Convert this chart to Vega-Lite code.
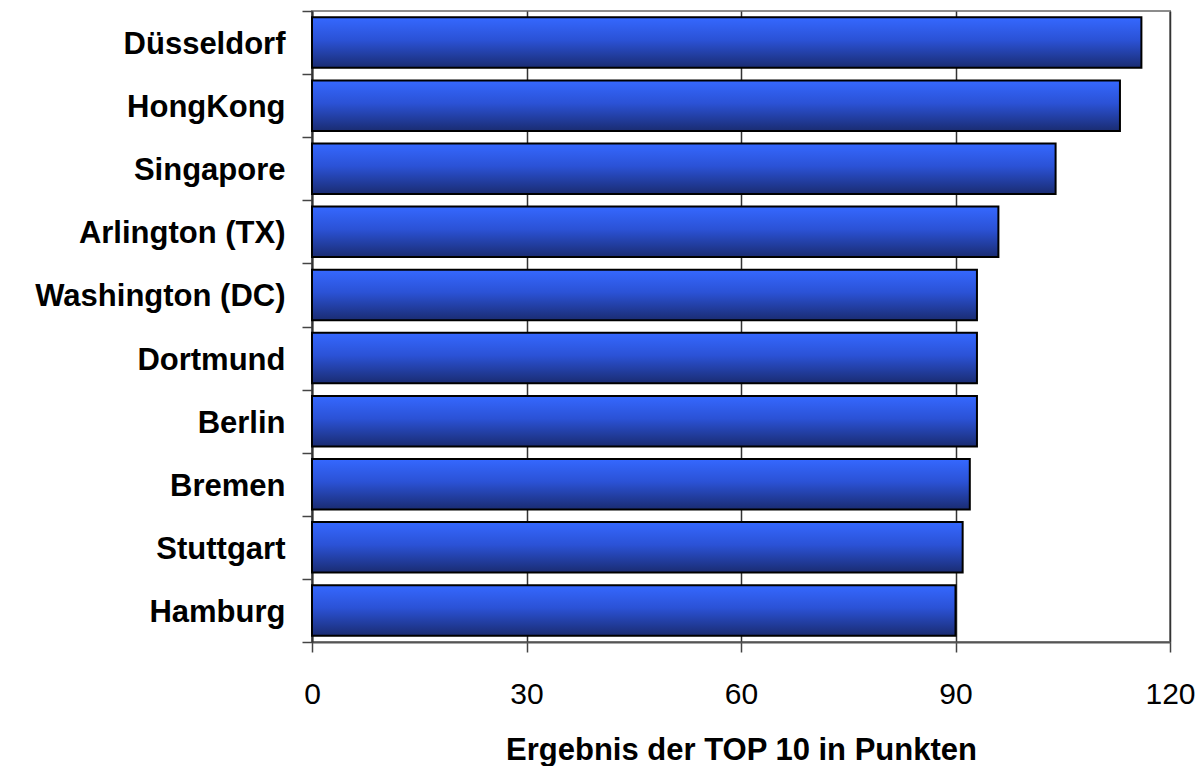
{
  "$schema": "https://vega.github.io/schema/vega-lite/v6.json",
  "width": 858,
  "height": 631,
  "autosize": "none",
  "padding": {"left": 312, "top": 11, "right": 32, "bottom": 124},
  "background": "white",
  "config": {
    "view": {"stroke": "#8c8c8c", "strokeWidth": 2},
    "font": "Liberation Sans"
  },
  "data": {
    "values": [
      {"city": "Düsseldorf", "score": 116},
      {"city": "HongKong", "score": 113},
      {"city": "Singapore", "score": 104},
      {"city": "Arlington (TX)", "score": 96},
      {"city": "Washington (DC)\u2005", "score": 93},
      {"city": "Dortmund", "score": 93},
      {"city": "Berlin", "score": 93},
      {"city": "Bremen", "score": 92},
      {"city": "Stuttgart", "score": 91},
      {"city": "Hamburg", "score": 90}
    ]
  },
  "mark": {
    "type": "bar",
    "height": {"band": 0.8},
    "color": {
      "gradient": "linear",
      "x1": 0, "y1": 0, "x2": 0, "y2": 1,
      "stops": [
        {"offset": 0, "color": "#3568ff"},
        {"offset": 0.45, "color": "#2b52d6"},
        {"offset": 1, "color": "#1a2c72"}
      ]
    },
    "stroke": "black",
    "strokeWidth": 2
  },
  "encoding": {
    "y": {
      "field": "city",
      "type": "nominal",
      "sort": null,
      "scale": {"paddingInner": 0, "paddingOuter": 0},
      "axis": {
        "title": null,
        "labelFont": "Liberation Sans",
        "labelFontSize": 31,
        "labelFontWeight": "bold",
        "labelColor": "black",
        "labelPadding": 17,
        "labelLimit": 400,
        "labelOffset": 2,
        "tickSize": 10,
        "tickColor": "#444",
        "tickWidth": 1.5,
        "domainColor": "#333",
        "domainWidth": 2,
        "tickBand": "extent"
      }
    },
    "x": {
      "field": "score",
      "type": "quantitative",
      "scale": {"domain": [0, 120], "nice": false, "zero": true},
      "axis": {
        "values": [0, 30, 60, 90, 120],
        "title": "Ergebnis der TOP 10 in Punkten",
        "titleFont": "Liberation Sans",
        "titleFontSize": 31,
        "titleFontWeight": "bold",
        "titleColor": "black",
        "titleBaseline": "alphabetic",
        "titleY": 117,
        "grid": true,
        "gridColor": "#333",
        "gridWidth": 1.5,
        "labelFont": "Liberation Sans",
        "labelFontSize": 30,
        "labelFontWeight": "normal",
        "labelColor": "black",
        "labelBaseline": "alphabetic",
        "labelPadding": 51,
        "labelFlush": false,
        "labelOverlap": false,
        "tickSize": 10,
        "tickColor": "#444",
        "tickWidth": 1.5,
        "domainColor": "#555",
        "domainWidth": 2
      }
    }
  }
}
